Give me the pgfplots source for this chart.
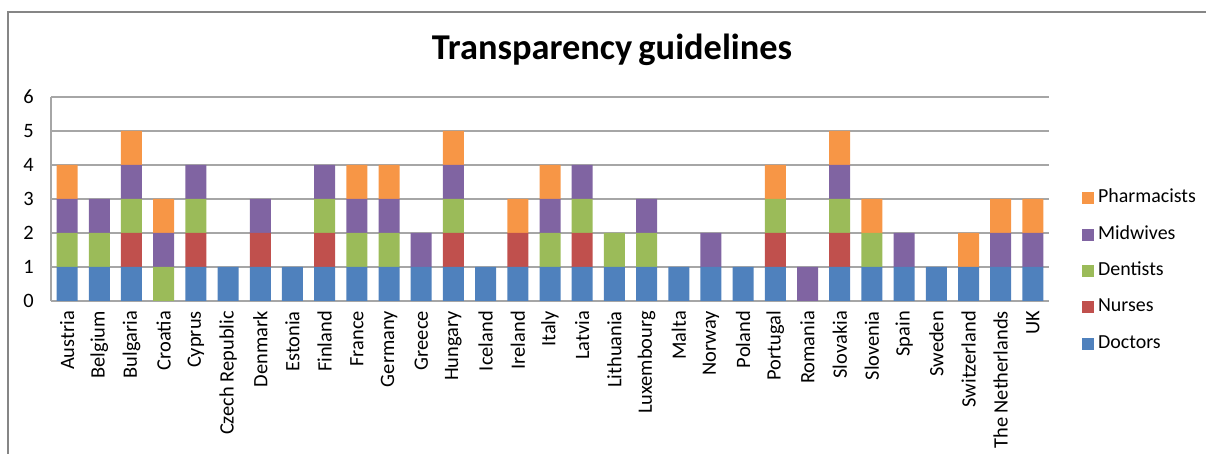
\documentclass[border=0pt]{standalone}
\usepackage{pgfplots}
\pgfplotsset{compat=1.18}
\usepackage{pgfplotstable}
\usepackage{fontspec}
\setmainfont{Carlito}
\definecolor{cDoc}{HTML}{4F81BD}
\definecolor{cNur}{HTML}{C0504D}
\definecolor{cDen}{HTML}{9BBB59}
\definecolor{cMid}{HTML}{8064A2}
\definecolor{cPha}{HTML}{F79646}
\definecolor{frame}{HTML}{868686}
\definecolor{gridc}{HTML}{A6A6A6}
\pgfplotstableread{
x D N De M P
0 1 0 1 1 1
1 1 0 1 1 0
2 1 1 1 1 1
3 0 0 1 1 1
4 1 1 1 1 0
5 1 0 0 0 0
6 1 1 0 1 0
7 1 0 0 0 0
8 1 1 1 1 0
9 1 0 1 1 1
10 1 0 1 1 1
11 1 0 0 1 0
12 1 1 1 1 1
13 1 0 0 0 0
14 1 1 0 0 1
15 1 0 1 1 1
16 1 1 1 1 0
17 1 0 1 0 0
18 1 0 1 1 0
19 1 0 0 0 0
20 1 0 0 1 0
21 1 0 0 0 0
22 1 1 1 0 1
23 0 0 0 1 0
24 1 1 1 1 1
25 1 0 1 0 1
26 1 0 0 1 0
27 1 0 0 0 0
28 1 0 0 0 1
29 1 0 0 1 1
30 1 0 0 1 1
}\data
\begin{document}
\begin{tikzpicture}[x=1bp,y=1bp]
\useasboundingbox (0,0) rectangle (1206,454);
\draw[frame, line width=1.5bp] (8,-5) -- (8,442) -- (1215,442);
\node[font=\fontsize{36.5}{40}\selectfont\bfseries, anchor=center] at (612,404) {Transparency\hspace{-2bp} guidelines};
\begin{axis}[
  at={(51bp,153bp)}, anchor=south west,
  scale only axis, width=998bp, height=204bp,
  ybar stacked, bar width=21bp,
  xmin=-0.5, xmax=30.5, ymin=0, ymax=6,
  xtick=data,
  xticklabels={Austria,Belgium,Bulgaria,Croatia,Cyprus,Czech Republic,Denmark,Estonia,Finland,France,Germany,Greece,Hungary,Iceland,Ireland,Italy,Latvia,Lithuania,Luxembourg,Malta,Norway,Poland,Portugal,Romania,Slovakia,Slovenia,Spain,Sweden,Switzerland,The Netherlands,UK},
  xticklabel style={rotate=90, anchor=east, font=\fontsize{20.5}{23}\selectfont, inner sep=0pt},
  xticklabel shift=10bp,
  ytick={0,1,2,3,4,5,6},
  yticklabel style={font=\fontsize{20.5}{23}\selectfont, inner sep=0pt, anchor=east},
  yticklabel shift=17bp,
  major tick length=0pt,
  ymajorgrids, grid style={gridc, line width=1.2bp},
  axis x line*=bottom, axis y line*=left,
  axis line style={gridc, line width=1.2bp},
  x axis line style={-}, y axis line style={-},
  /pgf/number format/assume math mode=true,
  reverse legend,
  legend cell align=left,
  legend style={draw=none, fill=none, at={(1.030,0.147)}, anchor=west,
    font=\fontsize{20}{23}\selectfont, row sep=19.4bp,
    nodes={inner sep=0pt, text height=13bp, text depth=4bp}},
  legend image code/.code={\fill[#1] (0bp,-6bp) rectangle (12bp,6bp);},
]
\addplot[fill=cDoc, draw=none] table[x=x,y=D]{\data};
\addlegendentry{\hspace{4bp}Doctors}
\addplot[fill=cNur, draw=none] table[x=x,y=N]{\data};
\addlegendentry{\hspace{4bp}Nurses}
\addplot[fill=cDen, draw=none] table[x=x,y=De]{\data};
\addlegendentry{\hspace{4bp}Dentists}
\addplot[fill=cMid, draw=none] table[x=x,y=M]{\data};
\addlegendentry{\hspace{4bp}Midwives}
\addplot[fill=cPha, draw=none] table[x=x,y=P]{\data};
\addlegendentry{\hspace{4bp}Pharmacists}
\end{axis}
\end{tikzpicture}
\end{document}
